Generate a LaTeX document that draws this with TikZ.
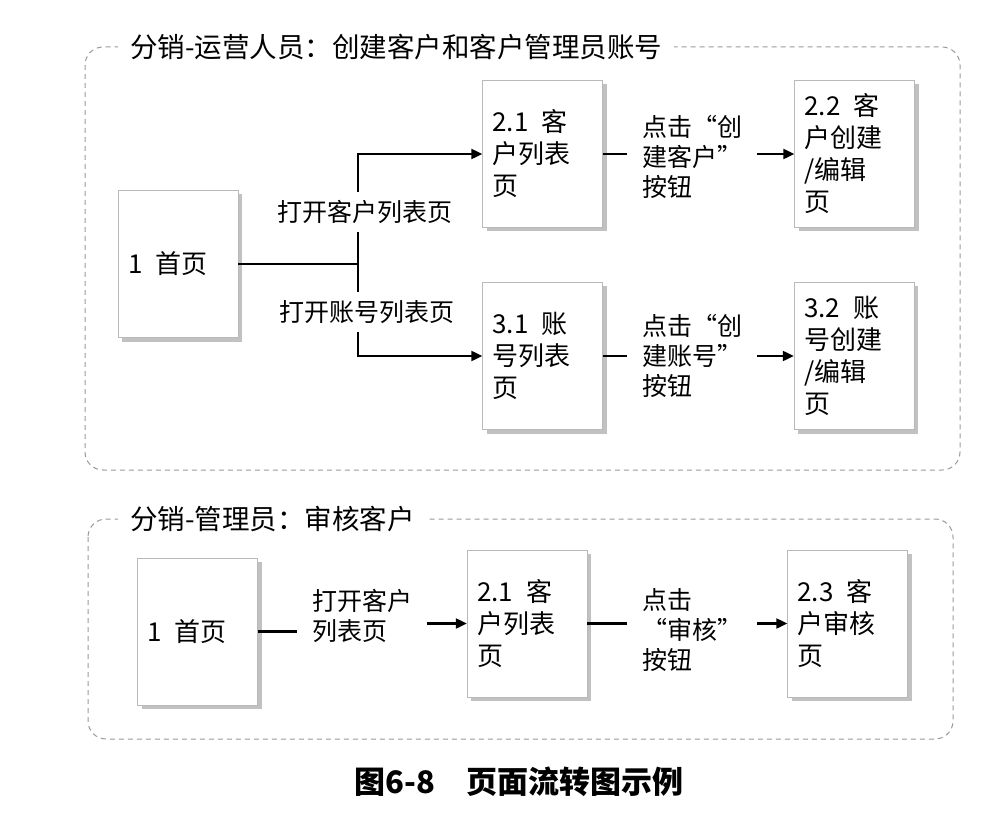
\documentclass[tikz,border=0pt]{standalone}
\usepackage{fontspec}
\setmainfont{Noto Sans CJK SC}
\usetikzlibrary{positioning, arrows.meta, calc, shadows}

\begin{document}
\begin{tikzpicture}[
  x=1pt, y=-1pt,
  page/.style={draw=gray!55, fill=white, align=left, text width=100pt,
    minimum height=147pt, inner xsep=10pt, inner ysep=4pt,
    font=\fontsize{26}{32}\selectfont,
    drop shadow={shadow xshift=4pt, shadow yshift=-4pt, fill=gray!60, opacity=0.8}},
  frame/.style={draw=gray!80, line width=1pt, dash pattern=on 5pt off 4pt, rounded corners=18pt},
  grouptitle/.style={fill=white, anchor=west, inner xsep=12pt, inner ysep=2pt,
    font=\fontsize{27.5}{30}\selectfont},
  tag/.style={fill=white, align=left, inner xsep=15pt, inner ysep=8pt,
    font=\fontsize{25}{30}\selectfont},
  link/.style={line width=2.2pt, draw=black},
  flow/.style={link, -{Triangle[length=11pt, width=10pt]}},
  caption/.style={font=\fontsize{31}{34}\selectfont\bfseries}
]
\useasboundingbox (0,0) rectangle (996,826);

% --- the two swimlane frames ---
\draw[frame] (85,47) rectangle (960,470);
\draw[frame] (88,519) rectangle (953,739);
\node[grouptitle] (opsTitle) at (118,47) {分销-运营人员：创建客户和客户管理员账号};
\node[grouptitle] (admTitle) at (118,519) {分销-管理员：审核客户};

% --- pages of the operations lane ---
\node[page] (home)     at (178,264)   {1\enspace 首页};
\node[page] (custlist) at (542.5,154) {2.1\enspace 客\\户列表\\页};
\node[page] (custedit) at (854.5,154) {2.2\enspace 客\\户创建\\/编辑\\页};
\node[page] (acctlist) at (542.5,356) {3.1\enspace 账\\号列表\\页};
\node[page] (acctedit) at (854,356)   {3.2\enspace 账\\号创建\\/编辑\\页};

% home forks to the two list pages
\coordinate (fork) at (358,264);
\draw[link] (home.east) -- (fork);
\draw[flow] (fork) |- (custlist.west);
\draw[flow] (fork) |- (acctlist.west);
\draw[flow] (custlist) -- (custedit);
\draw[flow] (acctlist) -- (acctedit);

\node[tag] (openCust) at (365,212) {打开客户列表页};
\node[tag] (openAcct) at (367,312) {打开账号列表页};
\node[tag] (newCust)  at (692,157) {点击“创\\建客户”\\按钮};
\node[tag] (newAcct)  at (692,356) {点击“创\\建账号”\\按钮};

% --- pages of the admin lane ---
\node[page] (home2)  at (197.5,631.5) {1\enspace 首页};
\node[page] (list2)  at (527,623.5)   {2.1\enspace 客\\户列表\\页};
\node[page] (audit)  at (847.5,623.5) {2.3\enspace 客\\户审核\\页};

\node[tag] (openList2) at (362,616) {打开客户\\列表页};
\draw[link] (home2.east) -- (home2.east -| openList2.west);
\draw[flow] (openList2.east |- list2.west) -- (list2.west);
\draw[flow] (list2) -- (audit);
\node[tag] (auditBtn) at (692,630) {点击\\“审核”\\按钮};

% --- figure caption ---
\node[caption] (cap) at (519,782) {图6-8\quad 页面流转图示例};

\end{tikzpicture}
\end{document}
